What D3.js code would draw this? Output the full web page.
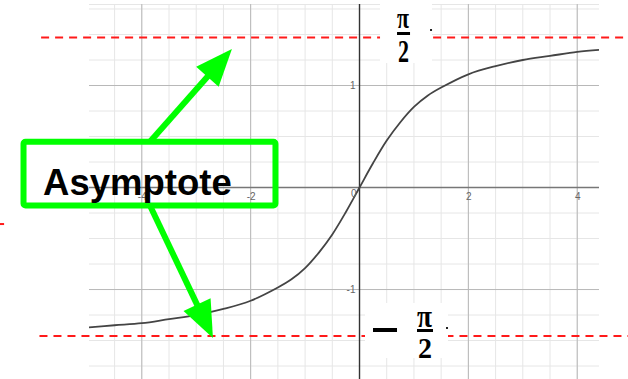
<!DOCTYPE html>
<html>

<head>
    <meta charset="utf-8">
    <script src="https://d3js.org/d3.v7.min.js"></script>
    <style>
        * {
            margin: 0;
            padding: 0;
        }

        body {
            width: 628px;
            height: 379px;
            background: #fff;
            overflow: hidden;
        }

        .tick text {
            font-family: "Liberation Sans", Arial, sans-serif;
            font-size: 10px;
            fill: #666;
        }
    </style>
</head>

<body>
    <div id="chart"></div>
</body>
<script>
    // curve y = arctan(x)
    let curveX = [-4.97, -4.5, -4, -3.5, -3, -2.5, -2, -1.5, -1.25, -1, -0.75, -0.5, -0.25, 0,
        0.25, 0.5, 0.75, 1, 1.25, 1.5, 2, 2.5, 3, 3.5, 4, 4.4];
    let curveY = [-1.37, -1.35, -1.33, -1.29, -1.25, -1.19, -1.11, -0.98, -0.90, -0.79, -0.64, -0.46, -0.24, 0,
        0.24, 0.46, 0.64, 0.79, 0.90, 0.98, 1.11, 1.19, 1.25, 1.29, 1.33, 1.35];

    let xTicks = [-4, -2, 2, 4];
    let yTicks = [-1, 1];
    let xMajor = [-4, -2, 0, 2, 4];
    let yMajor = [-1, 0, 1];
    let xMinor = d3.range(-4.5, 4.41, 0.5);
    let yMinor = d3.range(-1.75, 1.76, 0.25);

    // dashed red asymptote lines (as drawn in the picture)
    let asymY = [1.47, -1.455];
    let asymX0 = [-5.85, -5.88];
    let asymX1 = [5.25, 5.25];

    // annotation
    let boxLabel = "Asymptote";
    let boxX = [-6.173, -1.544];
    let boxY = [0.449, -0.176];
    let labelPos = [-5.813, -0.069];
    let arrowFrom = [[-3.85, 0.449], [-3.85, -0.176]];
    let arrowTip = [[-2.344, 1.358], [-2.693, -1.475]];

    let width = 628, height = 379;
    let plot = { left: 89, right: 599, top: 4, bottom: 379 };

    let x = d3.scaleLinear().domain([-4.97, 4.40]).range([plot.left, plot.right]);
    let y = d3.scaleLinear().domain([1.799, -1.877]).range([plot.top, plot.bottom]);

    let svg = d3.select("#chart").append("svg")
        .attr("width", width)
        .attr("height", height);

    svg.append("clipPath").attr("id", "clip")
        .append("rect")
        .attr("x", plot.left).attr("y", plot.top)
        .attr("width", plot.right - plot.left).attr("height", plot.bottom - plot.top);

    let grid = svg.append("g").attr("clip-path", "url(#clip)");

    grid.selectAll(".vminor").data(xMinor).enter().append("line")
        .attr("x1", d => x(d)).attr("x2", d => x(d))
        .attr("y1", plot.top).attr("y2", plot.bottom)
        .attr("stroke", "#e6e6e6");
    grid.selectAll(".hminor").data(yMinor).enter().append("line")
        .attr("y1", d => y(d)).attr("y2", d => y(d))
        .attr("x1", plot.left).attr("x2", plot.right)
        .attr("stroke", "#e6e6e6");
    grid.append("line")
        .attr("x1", plot.left).attr("x2", plot.right)
        .attr("y1", plot.top + 0.5).attr("y2", plot.top + 0.5)
        .attr("stroke", "#e6e6e6");
    grid.selectAll(".vmajor").data(xMajor).enter().append("line")
        .attr("x1", d => x(d)).attr("x2", d => x(d))
        .attr("y1", plot.top).attr("y2", plot.bottom)
        .attr("stroke", "#b8b8b8");
    grid.selectAll(".hmajor").data(yMajor).enter().append("line")
        .attr("y1", d => y(d)).attr("y2", d => y(d))
        .attr("x1", plot.left).attr("x2", plot.right)
        .attr("stroke", "#b8b8b8");

    // axes
    grid.append("line")
        .attr("x1", plot.left).attr("x2", plot.right)
        .attr("y1", y(0)).attr("y2", y(0))
        .attr("stroke", "#777").attr("stroke-width", 1.5);
    grid.append("line")
        .attr("x1", x(0)).attr("x2", x(0))
        .attr("y1", plot.top).attr("y2", plot.bottom)
        .attr("stroke", "#333").attr("stroke-width", 1.4);

    let gx = svg.append("g")
        .attr("transform", "translate(0," + y(0) + ")")
        .call(d3.axisBottom(x).tickValues(xTicks).tickSize(0).tickPadding(5));
    gx.select(".domain").remove();
    gx.selectAll(".tick text").text(d => String(d));

    let gy = svg.append("g")
        .attr("transform", "translate(" + x(0) + ",0)")
        .call(d3.axisLeft(y).tickValues(yTicks).tickSize(0).tickPadding(4));
    gy.select(".domain").remove();
    gy.selectAll(".tick text").text(d => String(d));

    svg.append("text")
        .attr("x", x(0) - 3).attr("y", y(0) + 9)
        .attr("text-anchor", "end")
        .style("font-family", "Liberation Sans, Arial, sans-serif")
        .style("font-size", "10px").style("fill", "#666")
        .text("0");

    // curve
    let pts = curveX.map((d, i) => [d, curveY[i]]);
    grid.append("path")
        .datum(pts)
        .attr("fill", "none")
        .attr("stroke", "#444")
        .attr("stroke-width", 1.8)
        .attr("d", d3.line().x(d => x(d[0])).y(d => y(d[1])).curve(d3.curveCatmullRom));

    // red asymptotes
    svg.selectAll(".asym").data(asymY).enter().append("line")
        .attr("x1", (d, i) => x(asymX0[i])).attr("x2", (d, i) => x(asymX1[i]))
        .attr("y1", d => y(d)).attr("y2", d => y(d))
        .attr("stroke", "#ff1a1a").attr("stroke-width", 2)
        .attr("stroke-dasharray", "8,6");
    // stray red dash at the left edge
    svg.append("line")
        .attr("x1", x(-6.61)).attr("x2", x(-6.53))
        .attr("y1", y(-0.358)).attr("y2", y(-0.358))
        .attr("stroke", "#ff1a1a").attr("stroke-width", 2);

    // pi/2 labels
    let serif = "Liberation Serif, Times New Roman, serif";

    let piTop = svg.append("g").attr("transform", "translate(" + x(0.377) + "," + y(1.799) + ")");
    piTop.append("rect").attr("width", 52).attr("height", 59).attr("fill", "#fff");
    piTop.append("text").attr("x", 17).attr("y", 24)
        .attr("textLength", 12).attr("lengthAdjust", "spacingAndGlyphs")
        .style("font-family", serif).style("font-size", "30px").style("font-weight", "bold")
        .text("π");
    piTop.append("rect").attr("x", 17).attr("y", 28).attr("width", 13).attr("height", 3).attr("fill", "#000");
    piTop.append("text").attr("x", 18).attr("y", 58)
        .attr("textLength", 11).attr("lengthAdjust", "spacingAndGlyphs")
        .style("font-family", serif).style("font-size", "31px").style("font-weight", "bold")
        .text("2");
    piTop.append("rect").attr("x", 50).attr("y", 25).attr("width", 2).attr("height", 2).attr("fill", "#222");

    let piBot = svg.append("g").attr("transform", "translate(" + x(0.101) + "," + y(-1.132) + ")");
    piBot.append("rect").attr("width", 83).attr("height", 55).attr("fill", "#fff");
    piBot.append("rect").attr("x", 8).attr("y", 25).attr("width", 24).attr("height", 4).attr("fill", "#000");
    piBot.append("text").attr("x", 52).attr("y", 24)
        .attr("textLength", 15).attr("lengthAdjust", "spacingAndGlyphs")
        .style("font-family", serif).style("font-size", "32px").style("font-weight", "bold")
        .text("π");
    piBot.append("rect").attr("x", 52).attr("y", 26).attr("width", 16).attr("height", 3).attr("fill", "#000");
    piBot.append("text").attr("x", 53).attr("y", 55)
        .attr("textLength", 14).attr("lengthAdjust", "spacingAndGlyphs")
        .style("font-family", serif).style("font-size", "30px").style("font-weight", "bold")
        .text("2");
    piBot.append("rect").attr("x", 81).attr("y", 24).attr("width", 2).attr("height", 2).attr("fill", "#222");

    // annotation box + arrows
    let green = "#00ff00";
    svg.append("rect")
        .attr("x", x(boxX[0])).attr("y", y(boxY[0]))
        .attr("width", x(boxX[1]) - x(boxX[0])).attr("height", y(boxY[1]) - y(boxY[0]))
        .attr("rx", 2)
        .attr("fill", "none").attr("stroke", green).attr("stroke-width", 6);

    svg.append("text")
        .attr("x", x(labelPos[0])).attr("y", y(labelPos[1]))
        .style("font-family", "Liberation Sans, Arial, sans-serif")
        .style("font-size", "36.5px").style("font-weight", "bold")
        .style("fill", "#000")
        .text(boxLabel);

    let headLen = 37, headHalf = 15;
    arrowFrom.forEach((f, i) => {
        let x0 = x(f[0]), y0 = y(f[1]);
        let x1 = x(arrowTip[i][0]), y1 = y(arrowTip[i][1]);
        let len = Math.hypot(x1 - x0, y1 - y0);
        let ux = (x1 - x0) / len, uy = (y1 - y0) / len;
        let bx = x1 - ux * headLen, by = y1 - uy * headLen;
        svg.append("line")
            .attr("x1", x0).attr("y1", y0)
            .attr("x2", bx + ux * 2).attr("y2", by + uy * 2)
            .attr("stroke", green).attr("stroke-width", 6);
        svg.append("polygon")
            .attr("points", [[x1, y1], [bx - uy * headHalf, by + ux * headHalf], [bx + uy * headHalf, by - ux * headHalf]]
                .map(p => p.join(",")).join(" "))
            .attr("fill", green);
    });
</script>

</html>
